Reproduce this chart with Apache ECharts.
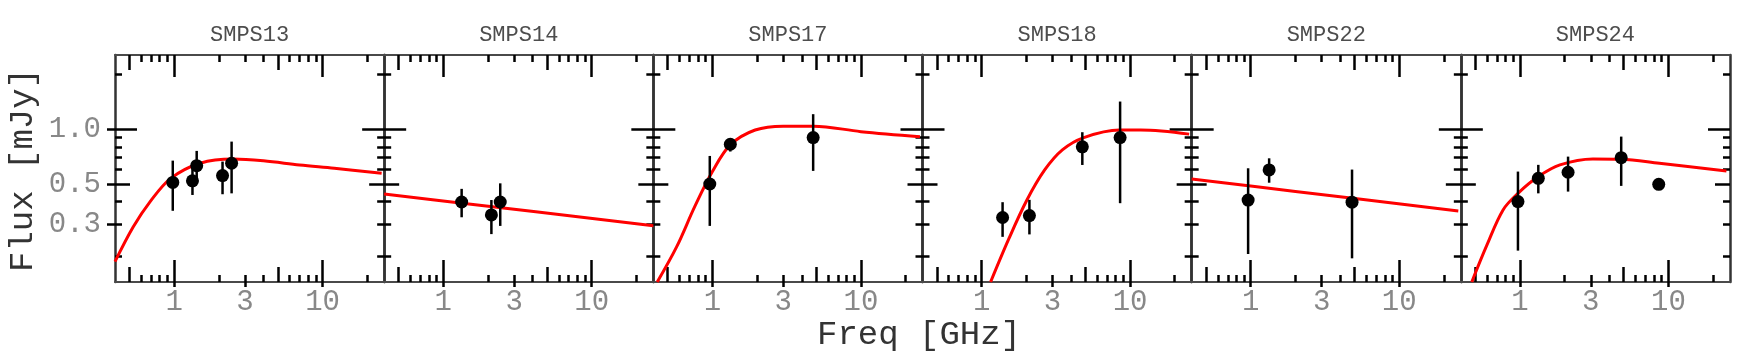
<!DOCTYPE html>
<html>
<head>
<meta charset="utf-8">
<script src="https://cdn.jsdelivr.net/npm/echarts@6/dist/echarts.min.js"></script>
<style>
  html, body { margin: 0; padding: 0; background: #fff; }
  #chart { width: 1744px; height: 364px; }
</style>
</head>
<body>
<div id="chart"></div>
<script>
const names = ['SMPS13', 'SMPS14', 'SMPS17', 'SMPS18', 'SMPS22', 'SMPS24']

// measured fluxes: frequency [GHz], flux [mJy], error bar low / high
const freq13 = [0.98, 1.33, 1.42, 2.12, 2.44]
const flux13 = [0.51, 0.52, 0.63, 0.556, 0.65]
const lo13 = [0.356, 0.435, 0.53, 0.439, 0.444]
const hi13 = [0.672, 0.62, 0.76, 0.664, 0.855]

const freq14 = [1.33, 2.11, 2.42]
const flux14 = [0.398, 0.338, 0.398]
const lo14 = [0.328, 0.265, 0.294]
const hi14 = [0.47, 0.408, 0.504]

const freq17 = [0.96, 1.32, 4.77]
const flux17 = [0.5, 0.827, 0.9]
const lo17 = [0.294, 0.754, 0.59]
const hi17 = [0.713, 0.89, 1.21]

const freq18 = [1.385, 2.1, 4.77, 8.57]
const flux18 = [0.327, 0.335, 0.8, 0.9]
const lo18 = [0.256, 0.264, 0.636, 0.392]
const hi18 = [0.397, 0.409, 0.963, 1.42]

const freq22 = [0.96, 1.33, 4.81]
const flux22 = [0.408, 0.597, 0.397]
const lo22 = [0.206, 0.508, 0.195]
const hi22 = [0.61, 0.692, 0.6]

const freq24 = [0.97, 1.33, 2.11, 4.81, 8.61]
const flux24 = [0.4, 0.537, 0.58, 0.698, 0.498]
const lo24 = [0.215, 0.444, 0.454, 0.488, null]
const hi24 = [0.585, 0.637, 0.707, 0.911, null]

// fitted spectra
const fitF13 = [0.4, 0.53, 0.69, 0.95, 1.5, 2.5, 4, 7, 12, 25]
const fitS13 = [0.187, 0.29, 0.4, 0.537, 0.65, 0.685, 0.67, 0.636, 0.61, 0.573]
const fitF14 = [0.4, 1.3, 26]
const fitS14 = [0.44, 0.393, 0.295]
const fitF17 = [0.425, 0.575, 0.76, 1.0, 1.32, 1.94, 3.0, 4.8, 10, 25]
const fitS17 = [0.1445, 0.226, 0.375, 0.585, 0.82, 0.99, 1.04, 1.04, 0.97, 0.91]
const fitF18 = [1.15, 1.53, 2.02, 2.66, 3.5, 4.88, 8.5, 11.8, 25]
const fitS18 = [0.1445, 0.251, 0.408, 0.597, 0.77, 0.9, 0.99, 0.99, 0.94]
const fitF22 = [0.4, 2, 25]
const fitS22 = [0.533, 0.455, 0.355]
const fitF24 = [0.474, 0.6, 0.77, 0.97, 1.33, 1.86, 3.1, 4.8, 8.7, 24.6]
const fitS24 = [0.1445, 0.231, 0.36, 0.444, 0.549, 0.637, 0.687, 0.684, 0.65, 0.59]

// ticks
const xShortTicks = [0.6, 0.7, 0.8, 0.9, 2, 3, 4, 6, 7, 8, 9, 20]
const xMidTicks = [0.5, 5]
const xLongTicks = [1, 10]
const xLabelTicks = [1, 3, 10]
const yShortTicks = [0.2, 0.3, 0.4, 0.6, 0.7, 0.8, 0.9, 2]
const yMidTicks = [0.5]
const yLongTicks = [1]
const yLabelTicks = [0.3, 0.5, 1]

const panels = [
  { f: freq13, s: flux13, lo: lo13, hi: hi13, ff: fitF13, fs: fitS13 },
  { f: freq14, s: flux14, lo: lo14, hi: hi14, ff: fitF14, fs: fitS14 },
  { f: freq17, s: flux17, lo: lo17, hi: hi17, ff: fitF17, fs: fitS17 },
  { f: freq18, s: flux18, lo: lo18, hi: hi18, ff: fitF18, fs: fitS18 },
  { f: freq22, s: flux22, lo: lo22, hi: hi22, ff: fitF22, fs: fitS22 },
  { f: freq24, s: flux24, lo: lo24, hi: hi24, ff: fitF24, fs: fitS24 }
]

const FONT = 'Liberation Mono'
const plotLeft = 115
const plotRight = 1730
const plotTop = 55
const plotBottom = 282
const panelW = (plotRight - plotLeft) / names.length

const tickStyle = { color: '#000', width: 2.5 }
const borderX = { show: true, onZero: false, lineStyle: { color: '#4a4a4a', width: 2 } }
const borderY = { show: true, onZero: false, lineStyle: { color: '#333', width: 2.5 } }

function logAxis(grid, pos, ticks, len, inside, extra) {
  const isX = pos === 'top' || pos === 'bottom'
  return Object.assign({
    type: 'log',
    logBase: 10,
    gridIndex: grid,
    position: pos,
    min: isX ? 0.4 : 0.1445,
    max: isX ? 26 : 2.56,
    axisLine: { show: false },
    splitLine: { show: false },
    minorTick: { show: false },
    axisTick: { show: true, inside, length: len, customValues: ticks, lineStyle: tickStyle },
    axisLabel: { show: false }
  }, extra || {})
}

const grids = []
const xAxes = []
const yAxes = []
const series = []
const titles = []

panels.forEach((p, i) => {
  const left = plotLeft + i * panelW
  grids.push({
    left, top: plotTop, width: panelW, height: plotBottom - plotTop,
    containLabel: false, outerBoundsMode: 'none'
  })
  titles.push({
    text: names[i],
    left: left + panelW / 2,
    top: 24,
    textAlign: 'center',
    padding: 0,
    textStyle: { fontFamily: FONT, fontSize: 22, fontWeight: 'normal', color: '#4d4d4d' }
  })

  const xi = xAxes.length
  xAxes.push(logAxis(i, 'bottom', xLabelTicks, 5, false, {
    axisLine: borderX,
    axisLabel: {
      show: true, customValues: xLabelTicks, margin: 6,
      fontFamily: FONT, fontSize: 29, color: '#888',
      formatter: v => String(+v.toPrecision(3))
    }
  }))
  xAxes.push(logAxis(i, 'bottom', xShortTicks, 7, true))
  xAxes.push(logAxis(i, 'bottom', xMidTicks, 15, true))
  xAxes.push(logAxis(i, 'bottom', xLongTicks, 22, true))
  xAxes.push(logAxis(i, 'top', xShortTicks, 7, true, { axisLine: borderX }))
  xAxes.push(logAxis(i, 'top', xMidTicks, 15, true))
  xAxes.push(logAxis(i, 'top', xLongTicks, 22, true))

  const yi = yAxes.length
  yAxes.push(logAxis(i, 'left', yShortTicks, 7, true, { axisLine: borderY }))
  yAxes.push(logAxis(i, 'left', yMidTicks, 15, true))
  yAxes.push(logAxis(i, 'left', yLongTicks, 22, true))
  yAxes.push(logAxis(i, 'right', yShortTicks, 7, true, { axisLine: borderY }))
  yAxes.push(logAxis(i, 'right', yMidTicks, 15, true))
  yAxes.push(logAxis(i, 'right', yLongTicks, 22, true))
  if (i === 0) {
    yAxes.push(logAxis(i, 'left', yLabelTicks, 8, false, {
      axisLabel: {
        show: true, customValues: yLabelTicks, margin: 14,
        fontFamily: FONT, fontSize: 29, color: '#888',
        formatter: v => (+v).toFixed(1)
      }
    }))
  }

  series.push({
    type: 'line',
    xAxisIndex: xi,
    yAxisIndex: yi,
    data: p.ff.map((f, k) => [f, p.fs[k]]),
    smooth: 0.35,
    showSymbol: false,
    silent: true,
    lineStyle: { color: '#ff0000', width: 3 },
    z: 2
  })
  series.push({
    type: 'custom',
    xAxisIndex: xi,
    yAxisIndex: yi,
    data: p.f.map((f, k) => [f, p.lo[k], p.hi[k]]).filter(d => d[1] != null),
    encode: { x: 0, y: [1, 2] },
    silent: true,
    z: 3,
    renderItem: (params, api) => {
      const a = api.coord([api.value(0), api.value(1)])
      const b = api.coord([api.value(0), api.value(2)])
      return {
        type: 'line',
        shape: { x1: a[0], y1: a[1], x2: b[0], y2: b[1] },
        style: { stroke: '#000', lineWidth: 2.5 }
      }
    }
  })
  series.push({
    type: 'scatter',
    xAxisIndex: xi,
    yAxisIndex: yi,
    data: p.f.map((f, k) => [f, p.s[k]]),
    symbol: 'circle',
    symbolSize: 13,
    silent: true,
    itemStyle: { color: '#000', opacity: 1 },
    z: 4
  })
})

const chart = echarts.init(document.getElementById('chart'))
chart.setOption({
  animation: false,
  backgroundColor: '#fff',
  title: titles,
  grid: grids,
  xAxis: xAxes,
  yAxis: yAxes,
  series,
  graphic: [
    {
      type: 'text', x: 23, y: 170, rotation: Math.PI / 2,
      style: { text: 'Flux [mJy]', font: '34px "Liberation Mono"', fill: '#333', align: 'center', verticalAlign: 'middle' }
    },
    {
      type: 'text', x: 919, y: 335,
      style: { text: 'Freq [GHz]', font: '34px "Liberation Mono"', fill: '#333', align: 'center', verticalAlign: 'middle' }
    }
  ]
})
</script>
</body>
</html>
